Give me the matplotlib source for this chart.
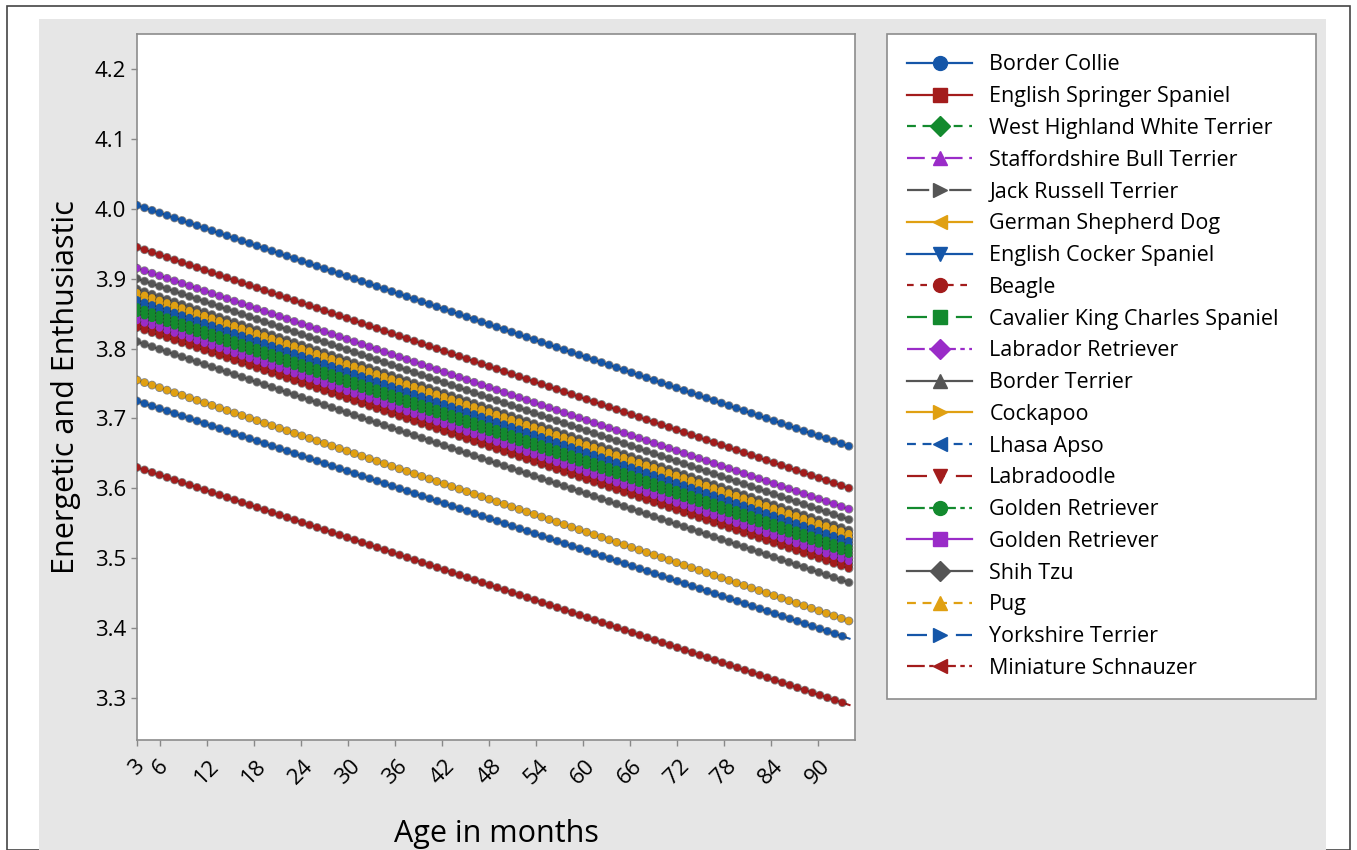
import matplotlib.pyplot as plt
from matplotlib.lines import Line2D
from matplotlib.patches import Rectangle

plt.rcParams["font.family"] = ["Open Sans", "DejaVu Sans"]

# breeds in legend order, values read at age 3 and at age 94 months
breeds = [
    "Border Collie", "English Springer Spaniel", "West Highland White Terrier",
    "Staffordshire Bull Terrier", "Jack Russell Terrier", "German Shepherd Dog",
    "English Cocker Spaniel", "Beagle", "Cavalier King Charles Spaniel",
    "Labrador Retriever", "Border Terrier", "Cockapoo", "Lhasa Apso",
    "Labradoodle", "Golden Retriever", "Golden Retriever", "Shih Tzu", "Pug",
    "Yorkshire Terrier", "Miniature Schnauzer",
]
ages = [3, 94]
start_vals = [4.005, 3.945, 3.855, 3.915, 3.810, 3.875, 3.865, 3.835, 3.860, 3.845,
              3.885, 3.880, 3.870, 3.830, 3.850, 3.840, 3.900, 3.755, 3.725, 3.630]
end_vals = [3.660, 3.600, 3.510, 3.570, 3.465, 3.530, 3.520, 3.490, 3.515, 3.500,
            3.540, 3.535, 3.525, 3.485, 3.505, 3.495, 3.555, 3.410, 3.385, 3.290]
xticks = [3, 6, 12, 18, 24, 30, 36, 42, 48, 54, 60, 66, 72, 78, 84, 90]
yticks = [3.3, 3.4, 3.5, 3.6, 3.7, 3.8, 3.9, 4.0, 4.1, 4.2]

palette = ["#1556A8", "#A31C1C", "#138A2E", "#9A2CC8", "#555555", "#E0A012"]
markers = ["o", "s", "D", "^", ">", "<", "v"]
styles = ["-", "-", (0, (4, 3)), (0, (8, 3, 3, 3)), (0, (10, 3, 3, 3)), "-", "-",
          (0, (3, 3)), (0, (9, 5, 3, 5)), (0, (8, 2, 2, 2)), "-", "-", (0, (4, 3)),
          (0, (9, 5, 3, 5)), (0, (8, 2, 2, 2)), "-", "-", (0, (4, 3)),
          (0, (9, 5, 3, 5)), (0, (8, 2, 2, 2))]

fig = plt.figure(figsize=(13.57, 8.5), dpi=100)
fig.patch.set_facecolor("white")
W, H = 1357, 850
fig.patches.append(Rectangle((7 / W, 0), 1343 / W, 844 / H, transform=fig.transFigure,
                             facecolor="white", edgecolor="#444444", lw=1.2, zorder=-2))
fig.patches.append(Rectangle((39 / W, 0), 1287 / W, 831 / H, transform=fig.transFigure,
                             facecolor="#E6E6E6", edgecolor="none", zorder=-1))

ax = fig.add_axes([137 / W, 110 / H, 718 / W, 706 / H])
ax.set_facecolor("white")

handles = []
for i, name in enumerate(breeds):
    col = palette[i % 6]
    mk = markers[i % 7]
    ys = [start_vals[i], end_vals[i]]
    ax.plot(ages, ys, color=col, lw=1.5, zorder=2)
    # chain of dots to mimic the dense per-month markers
    ax.plot(ages, ys, color="#222222", lw=6.4, alpha=0.55, dashes=(0.01, 0.88),
            dash_capstyle="round", zorder=3)
    ax.plot(ages, ys, color=col, lw=5.2, dashes=(0.01, 1.085),
            dash_capstyle="round", zorder=4)
    handles.append(Line2D([], [], color=col, ls=styles[i], lw=1.6, marker=mk,
                          markersize=10, markeredgecolor=col, label=name))

ax.set_xlim(3, 94.7)
ax.set_ylim(3.24, 4.25)
ax.set_xticks(xticks)
ax.set_xticklabels([str(t) for t in xticks], rotation=45, ha="center", va="top")
ax.set_yticks(yticks)
ax.set_yticklabels([f"{t:.1f}" for t in yticks])
ax.tick_params(axis="both", labelsize=16, color="#888888", length=4, width=1)
ax.tick_params(axis="x", pad=7)
ax.tick_params(axis="y", pad=4)
for s in ax.spines.values():
    s.set_color("#8C8C8C")
    s.set_linewidth(1.2)

ax.set_xlabel("Age in months", fontsize=22, labelpad=22)
ax.set_ylabel("Energetic and Enthusiastic", fontsize=22, labelpad=10)

leg = fig.legend(handles=handles, loc="upper left",
                 bbox_to_anchor=(887 / W, 0, 429 / W, 1 - 34 / H), mode="expand",
                 borderaxespad=0, frameon=True, fancybox=False, framealpha=1,
                 facecolor="white", fontsize=15.5, handlelength=3.0,
                 labelspacing=0.5, borderpad=0.95, handletextpad=0.8)
leg.get_frame().set_edgecolor("#8C8C8C")
leg.get_frame().set_linewidth(1.2)

fig.savefig("out.png", dpi=100)
